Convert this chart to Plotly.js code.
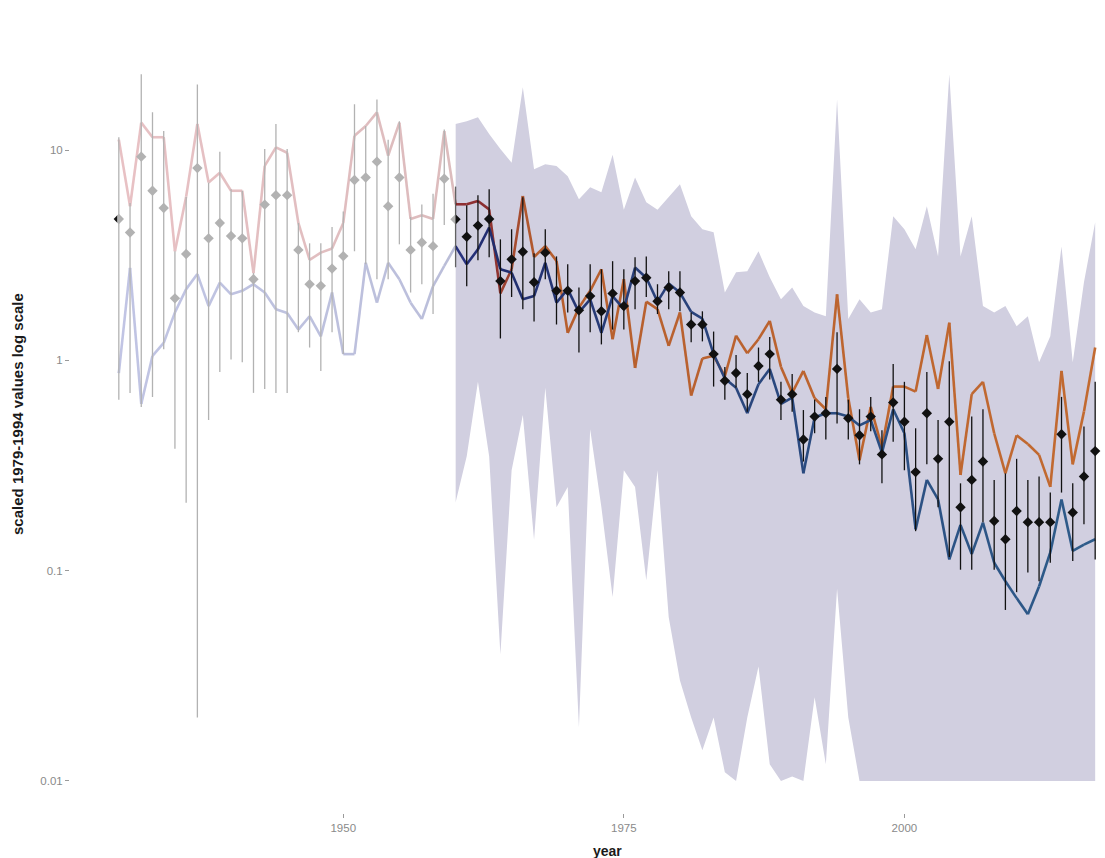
<!DOCTYPE html>
<html>
<head>
<meta charset="utf-8">
<script src="https://cdn.plot.ly/plotly-3.0.1.min.js"></script>
<style>
  html, body { margin: 0; padding: 0; overflow: hidden; background: #ffffff; }
  #chart { width: 1160px; height: 858px; }
</style>
</head>
<body>
<div id="chart"></div>
<script>
// ---- data ----
const years = [1930,1931,1932,1933,1934,1935,1936,1937,1938,1939,
  1940,1941,1942,1943,1944,1945,1946,1947,1948,1949,
  1950,1951,1952,1953,1954,1955,1956,1957,1958,1959,
  1960,1961,1962,1963,1964,1965,1966,1967,1968,1969,
  1970,1971,1972,1973,1974,1975,1976,1977,1978,1979,
  1980,1981,1982,1983,1984,1985,1986,1987,1988,1989,
  1990,1991,1992,1993,1994,1995,1996,1997,1998,1999,
  2000,2001,2002,2003,2004,2005,2006,2007,2008,2009,
  2010,2011,2012,2013,2014,2015,2016,2017];

// upper (red/orange) series
const upperLine = [11.2,5.4,13.5,11.5,11.5,3.3,6.0,13.3,7.0,7.8,
  6.4,6.4,2.6,8.4,10.3,9.7,4.5,3.0,3.25,3.4,
  4.5,11.7,13.0,15.1,9.4,13.5,4.7,4.9,4.7,12.3,
  5.52,5.52,5.72,5.22,2.08,2.71,6.04,3.1,3.49,2.97,
  1.35,1.78,2.14,2.71,1.26,2.43,0.92,1.9,1.75,1.17,
  1.69,0.68,1.02,1.05,0.84,1.31,1.08,1.26,1.54,0.93,
  0.70,0.89,0.66,0.585,2.06,0.66,0.335,0.60,0.385,0.75,
  0.75,0.71,1.32,0.73,1.51,0.285,0.69,0.79,0.45,0.29,
  0.44,0.40,0.355,0.25,0.89,0.32,0.57,1.15];

// lower (blue) series
const lowerLine = [0.87,2.75,0.62,1.05,1.21,1.69,2.18,2.57,1.81,2.34,
  2.06,2.14,2.30,2.10,1.75,1.68,1.40,1.62,1.30,2.10,
  1.07,1.07,2.91,1.88,2.91,2.43,1.88,1.57,2.25,2.81,
  3.49,2.86,3.37,4.28,2.71,2.61,1.95,2.02,2.91,1.88,
  2.18,1.69,1.95,1.35,2.02,1.75,2.76,2.47,1.90,2.32,
  2.10,1.70,1.58,1.07,0.82,0.74,0.56,0.77,0.91,0.62,
  0.665,0.29,0.535,0.56,0.56,0.54,0.49,0.52,0.364,0.585,
  0.45,0.157,0.27,0.218,0.113,0.165,0.12,0.169,0.109,0.089,
  0.074,0.062,0.084,0.122,0.218,0.124,0.133,0.141];

// point estimates (diamonds) with interval ends
const pointVal = [4.7,4.05,9.3,6.4,5.3,1.97,3.2,8.2,3.8,4.5,
  3.9,3.8,2.43,5.5,6.1,6.1,3.35,2.3,2.26,2.73,
  3.13,7.2,7.4,8.8,5.4,7.4,3.35,3.63,3.49,7.3,
  4.68,3.87,4.37,4.70,2.38,3.02,3.28,2.35,3.25,2.14,
  2.14,1.73,2.02,1.71,2.08,1.81,2.38,2.47,1.91,2.22,
  2.10,1.48,1.48,1.07,0.80,0.87,0.69,0.94,1.07,0.65,
  0.69,0.42,0.54,0.56,0.91,0.53,0.44,0.54,0.357,0.63,
  0.51,0.294,0.56,0.34,0.51,0.20,0.27,0.33,0.172,0.141,
  0.192,0.170,0.170,0.170,0.445,0.189,0.28,0.37];

const errHigh = [11.5,5.6,22.9,15.1,12.3,3.3,6.0,20.5,7.0,9.8,
  6.5,6.4,2.6,10.1,13.3,10.1,4.5,3.6,3.6,4.3,
  5.1,16.5,13.0,17.4,11.2,13.7,4.8,5.5,6.2,12.5,
  6.7,5.46,6.1,6.5,3.76,4.2,5.96,3.23,4.2,3.12,
  2.86,2.22,2.86,2.71,2.96,2.71,3.09,3.12,2.30,2.65,
  2.65,1.69,1.71,1.37,0.93,1.06,0.87,1.15,1.29,0.79,
  0.86,0.58,0.65,0.67,1.36,0.65,0.585,0.67,0.465,0.96,
  0.79,0.475,0.88,0.52,0.99,0.26,0.54,0.585,0.27,0.29,
  0.34,0.27,0.28,0.235,0.67,0.26,0.485,0.79];

const errLow = [0.65,0.70,0.60,0.67,1.13,0.38,0.21,0.020,0.52,0.88,
  1.01,0.98,0.70,0.73,0.70,0.70,1.36,1.15,0.89,1.36,
  1.07,3.3,2.86,2.43,2.43,3.56,2.10,2.30,1.66,4.4,
  2.77,2.25,2.99,3.09,1.27,2.0,1.75,1.53,2.43,1.48,
  1.69,1.09,1.36,1.19,1.40,1.40,1.75,2.0,1.66,1.75,
  1.71,1.22,1.23,0.75,0.65,0.74,0.57,0.79,0.81,0.52,
  0.57,0.33,0.45,0.42,0.50,0.42,0.32,0.46,0.26,0.41,
  0.30,0.154,0.32,0.20,0.116,0.101,0.101,0.17,0.101,0.065,
  0.079,0.098,0.089,0.109,0.235,0.111,0.166,0.113];

// shaded band (from 1960)
const bandYears = [1960,1961,1962,1963,1964,1965,1966,1967,1968,1969,
  1970,1971,1972,1973,1974,1975,1976,1977,1978,1979,
  1980,1981,1982,1983,1984,1985,1986,1987,1988,1989,
  1990,1991,1992,1993,1994,1995,1996,1997,1998,1999,
  2000,2001,2002,2003,2004,2005,2006,2007,2008,2009,
  2010,2011,2012,2013,2014,2015,2016,2017];
const bandHigh = [13.3,13.7,14.3,11.9,10.1,8.7,19.9,8.1,8.55,8.4,
  7.5,5.83,6.65,6.3,9.5,5.2,7.4,5.64,5.2,6.0,
  6.87,4.84,4.2,4.06,2.10,2.62,2.65,3.30,2.48,1.95,
  2.22,1.81,1.69,1.62,17.4,1.57,1.95,1.69,1.75,4.84,
  4.2,3.37,5.4,3.12,22.9,3.12,4.84,1.81,1.69,1.81,
  1.45,1.62,0.98,1.30,3.48,0.98,2.35,4.53];
const bandLow = [0.21,0.35,0.79,0.35,0.04,0.3,0.55,0.14,0.74,0.2,
  0.25,0.018,0.47,0.2,0.075,0.3,0.25,0.09,0.3,0.06,
  0.03,0.02,0.014,0.02,0.011,0.01,0.02,0.035,0.012,0.01,
  0.0105,0.01,0.025,0.012,0.082,0.02,0.01,0.01,0.01,0.01,
  0.01,0.01,0.01,0.01,0.01,0.01,0.01,0.01,0.01,0.01,
  0.01,0.01,0.01,0.01,0.01,0.01,0.01,0.01];

const yTickVals = [0.01, 0.1, 1, 10];
const yTickText = ['0.01', '0.1', '1', '10'];
const xTickVals = [1950, 1975, 2000];
const xTickText = ['1950', '1975', '2000'];
const yTitle = 'scaled 1979-1994 values log scale';
const xTitle = 'year';
const fadeStart = 1929.85, fadeEnd = 1960;

// ---- styling ----
const bandColor = 'rgb(209,207,224)';
// colour stops along the years for the two lines (style only)
const upperStops = [[1930,[184,64,74]],[1958,[150,48,52]],[1963,[138,46,48]],[1967,[182,94,46]],[2017,[194,106,48]]];
const lowerStops = [[1930,[62,74,170]],[1958,[46,56,142]],[1963,[33,44,110]],[1975,[40,62,120]],[2017,[46,92,138]]];
function colorAt(stops, yr) {
  if (yr <= stops[0][0]) return stops[0][1];
  for (let k = 0; k < stops.length - 1; k++) {
    const a = stops[k], b = stops[k + 1];
    if (yr <= b[0]) {
      const t = (yr - a[0]) / (b[0] - a[0]);
      return a[1].map((c, j) => Math.round(c + t * (b[1][j] - c)));
    }
  }
  return stops[stops.length - 1][1];
}
function segmentTraces(xs, ys, stops, width) {
  const out = [];
  for (let i = 0; i < xs.length - 1; i++) {
    const c = colorAt(stops, (xs[i] + xs[i + 1]) / 2);
    out.push({ x: [xs[i], xs[i + 1]], y: [ys[i], ys[i + 1]], type: 'scatter', mode: 'lines',
      line: { color: 'rgb(' + c.join(',') + ')', width: width }, hoverinfo: 'skip', showlegend: false });
  }
  return out;
}

const traces = [
  { x: bandYears, y: bandLow, type: 'scatter', mode: 'lines',
    line: { width: 0, color: bandColor }, hoverinfo: 'skip', showlegend: false },
  { x: bandYears, y: bandHigh, type: 'scatter', mode: 'lines', fill: 'tonexty',
    fillcolor: bandColor, line: { width: 0, color: bandColor }, hoverinfo: 'skip', showlegend: false }
].concat(
  segmentTraces(years, upperLine, upperStops, 2.6),
  segmentTraces(years, lowerLine, lowerStops, 2.6),
  [{ x: years, y: pointVal, type: 'scatter', mode: 'markers',
    marker: { symbol: 'diamond', size: 8, color: '#111111' },
    error_y: { type: 'data', symmetric: false,
      array: errHigh.map((h, i) => h - pointVal[i]),
      arrayminus: errLow.map((l, i) => pointVal[i] - l),
      width: 0, thickness: 1.3, color: '#111111' },
    showlegend: false }]
);

const layout = {
  width: 1160, height: 858,
  margin: { l: 70, r: 16, t: 50, b: 45 },
  paper_bgcolor: '#ffffff', plot_bgcolor: '#ffffff',
  font: { family: 'Liberation Sans, Arial, sans-serif', color: '#222' },
  showlegend: false,
  xaxis: {
    range: [1925.65, 2021.35], showgrid: false, zeroline: false, showline: false,
    tickmode: 'array', tickvals: xTickVals, ticktext: xTickText,
    ticks: 'outside', ticklen: 4, tickwidth: 1, tickcolor: '#9a9a9a',
    tickfont: { size: 11.5, color: '#8a8a8a' }
  },
  yaxis: {
    type: 'log', range: [-2.1526, 1.4755], showgrid: false, zeroline: false, showline: false,
    tickmode: 'array', tickvals: yTickVals, ticktext: yTickText,
    ticks: 'outside', ticklen: 4, tickwidth: 1, tickcolor: '#9a9a9a',
    tickfont: { size: 11.5, color: '#8a8a8a' }
  },
  annotations: [
    { text: yTitle, xref: 'paper', yref: 'paper', x: -0.0484, y: 0.523, xanchor: 'center', yanchor: 'middle',
      textangle: -90, showarrow: false, font: { size: 15, weight: 'bold', color: '#1a1a1a' } },
    { text: xTitle, xref: 'paper', yref: 'paper', x: 0.5, y: -0.0497, xanchor: 'center', yanchor: 'middle',
      showarrow: false, font: { size: 14, weight: 'bold', color: '#1a1a1a' } }
  ],
  shapes: [
    { type: 'rect', xref: 'x', yref: 'paper', x0: fadeStart, x1: fadeEnd, y0: 0, y1: 1,
      fillcolor: '#ffffff', opacity: 0.68, line: { width: 0 }, layer: 'above' }
  ]
};

Plotly.newPlot('chart', traces, layout, { displayModeBar: false, staticPlot: true });
</script>
</body>
</html>
